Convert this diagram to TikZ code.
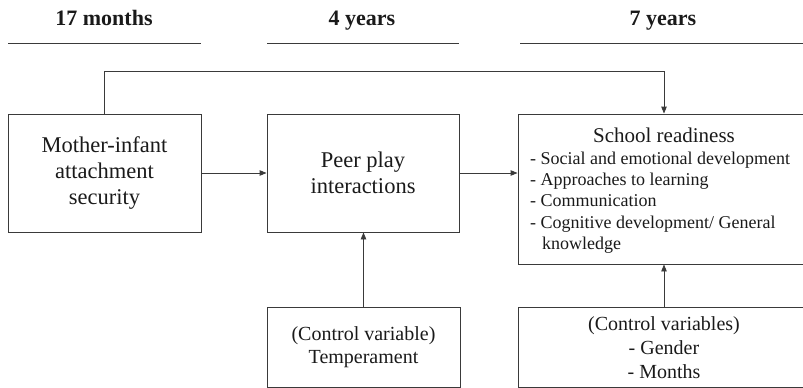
\documentclass[tikz,border=0pt]{standalone}
\usepackage{fontspec}
\setmainfont{Liberation Serif}
\usetikzlibrary{arrows.meta}
\definecolor{linec}{HTML}{3A3A3A}
\definecolor{txtc}{HTML}{1A1A1A}
\begin{document}
\begin{tikzpicture}[x=1pt,y=-1pt,
  box/.style={draw=linec, line width=0.9pt, inner sep=0pt, text=txtc},
  conn/.style={draw=linec, line width=0.9pt},
  arr/.style={conn, -{Triangle[length=7pt,width=5.5pt]}},
  hdr/.style={font=\fontsize{22}{26}\selectfont\bfseries, anchor=base, text=txtc, inner sep=0pt},
  bigtxt/.style={font=\fontsize{22.5}{26}\selectfont, align=center},
  smalltxt/.style={font=\fontsize{20}{23}\selectfont, align=center},
  listtxt/.style={font=\fontsize{18}{21.25}\selectfont, align=left, text=txtc, inner sep=0pt, anchor=west},
  rule/.style={draw=linec, line width=0.9pt}
]
\useasboundingbox (0,0) rectangle (803,388);

% headers
\node[hdr] (h1) at (104,25) {17 months};
\node[hdr] (h2) at (362,25) {4 years};
\node[hdr] (h3) at (663,25) {7 years};
\draw[rule] (8,43) -- (201,43);
\draw[rule] (267,43) -- (459,43);
\draw[rule] (520,43) -- (803,43);

% boxes
\node[box, bigtxt, minimum width=193pt, minimum height=118pt] (left) at (104.5,173)
  {Mother-infant\\attachment\\security};
\node[box, bigtxt, minimum width=192pt, minimum height=118pt] (mid) at (363,173)
  {Peer play\\interactions};
\node[box, minimum width=292pt, minimum height=150pt] (right) at (664,189) {};
\node[font=\fontsize{21}{24}\selectfont, text=txtc, inner sep=0pt] (title) at (664,135) {School readiness};
\node[listtxt] (list) at (530,202.5)
  {- Social and emotional development\\
   - Approaches to learning\\
   - Communication\\
   - Cognitive development/ General\\
   \hspace*{12pt}knowledge};

\node[box, smalltxt, minimum width=193pt, minimum height=80.5pt] (cv1) at (363.5,347.25)
  {(Control variable)\\Temperament};
\node[box, font=\fontsize{20}{24}\selectfont, align=center, minimum width=292pt, minimum height=80.5pt] (cv2) at (664,347.25)
  {(Control variables)\\- Gender\\- Months};

% connectors
\coordinate (fb) at (104.5,71);
\draw[arr] (left.north) -- (fb) -| (right.north);
\draw[arr] (left) -- (mid);
\draw[arr] (mid.east) -- (mid.east -| right.west);
\draw[arr] (cv1.north) -- (cv1.north |- mid.south);
\draw[arr] (cv2.north) -- (right.south);
\end{tikzpicture}
\end{document}
